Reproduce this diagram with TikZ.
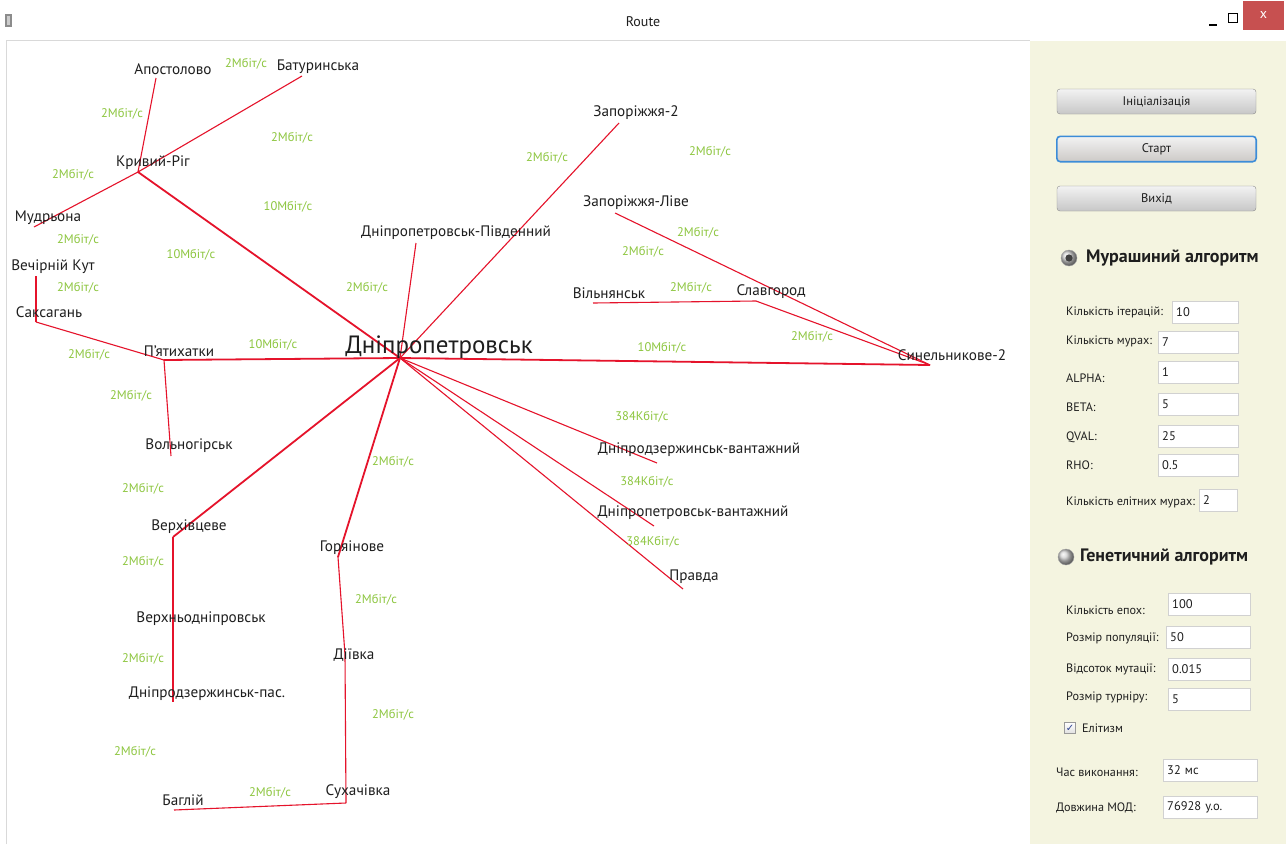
\documentclass[tikz,border=0pt]{standalone}
\usepackage{fontspec}
\setmainfont{PT Sans}
\newfontfamily\symf{DejaVu Sans}
\definecolor{linkred}{HTML}{E5132B}
\definecolor{bwc}{HTML}{8DC63F}
\definecolor{panelbg}{HTML}{F4F4E0}
\definecolor{closered}{HTML}{C75050}
\definecolor{txt}{HTML}{1E1E1E}
\definecolor{focusblue}{HTML}{3C8CD8}
\definecolor{checkblue}{HTML}{2A3F8F}
\tikzset{
  city/.style={font=\fontsize{15.2}{17}\selectfont, text=txt, inner sep=0pt},
  hubtext/.style={font=\fontsize{25}{28}\selectfont, text=txt, inner sep=0pt},
  bw/.style={font=\fontsize{12.5}{14}\selectfont, text=bwc, inner sep=0pt},
  link/.style={draw=linkred, line width=1.1pt},
  trunk/.style={draw=linkred, line width=1.8pt},
  btn/.style={draw=black!45, rounded corners=3pt, top color=white!95!black, bottom color=black!22,
    minimum width=199pt, minimum height=25pt, inner sep=0pt, font=\fontsize{12.5}{14}\selectfont, text=txt},
  field/.style={draw=black!18, fill=white, anchor=west, minimum height=22pt, inner sep=4pt,
    text width=#1, align=left, font=\fontsize{12.5}{14}\selectfont, text=txt},
  plabel/.style={anchor=west, inner sep=0pt, font=\fontsize{12.2}{14}\selectfont, text=txt},
  radiohead/.style={anchor=west, inner sep=0pt, font=\fontsize{18}{20}\selectfont\bfseries, text=txt}
}
\begin{document}
\begin{tikzpicture}[x=1pt,y=-1pt]
\useasboundingbox (0,0) rectangle (1286,844);
% window
\fill[white] (0,0) rectangle (1286,844);
\fill[panelbg] (1030,41) rectangle (1286,844);
\draw[black!15] (6.5,844) -- (6.5,40.5) -- (1030,40.5);
% title bar
\node[font=\fontsize{14}{16}\selectfont, text=txt] (title) at (643,22) {Route};
\fill[black!45] (5,14) rectangle (12,27);
\fill[black!20] (7,16) rectangle (10,25);
\draw[black, line width=1.5pt] (1209,25) -- (1217,25);
\draw[black, line width=1pt] (1228,13) rectangle (1237,22);
\fill[closered] (1243,1) rectangle (1284,30);
\node[text=white, font=\fontsize{14}{16}\selectfont] (closex) at (1263.5,15) {x};

% city points
\coordinate (hub) at (400,358);
\coordinate (kr) at (138,172);
\coordinate (apost) at (156,78);
\coordinate (batur) at (302,76);
\coordinate (mudr) at (34,227);
\coordinate (vk) at (36,276);
\coordinate (saks) at (36,322);
\coordinate (pyat) at (164,360);
\coordinate (voln) at (171,456);
\coordinate (verkh) at (173,537);
\coordinate (dzp) at (173,702);
\coordinate (gor) at (338,557);
\coordinate (diiv) at (345,655);
\coordinate (sukh) at (346,803);
\coordinate (bag) at (174,810);
\coordinate (pivd) at (416,243);
\coordinate (zap2) at (619,123);
\coordinate (zapl) at (615,213);
\coordinate (viln) at (593,303);
\coordinate (slav) at (756,301);
\coordinate (syn) at (930,365);
\coordinate (dzv) at (657,463);
\coordinate (dpv) at (654,526);
\coordinate (pravda) at (683,589);

% links
\draw[trunk] (hub) -- (kr);
\draw[link] (kr) -- (apost);
\draw[link] (kr) -- (batur);
\draw[link] (kr) -- (mudr);
\draw[link] (vk) -- (saks);
\draw[link] (saks) -- (pyat);
\draw[trunk] (pyat) -- (hub);
\draw[link] (pyat) -- (voln);
\draw[trunk] (hub) -- (verkh);
\draw[link] (verkh) -- (dzp);
\draw[trunk] (hub) -- (gor);
\draw[link] (gor) -- (diiv);
\draw[link] (diiv) -- (sukh);
\draw[link] (sukh) -- (bag);
\draw[link] (hub) -- (pivd);
\draw[link] (hub) -- (zap2);
\draw[link] (zapl) -- (syn);
\draw[link] (viln) -- (slav);
\draw[link] (slav) -- (syn);
\draw[trunk] (hub) -- (syn);
\draw[link] (hub) -- (dzv);
\draw[link] (hub) -- (dpv);
\draw[link] (hub) -- (pravda);

% city labels
\node[hubtext] (l-hub) at (439,347) {Дніпропетровськ};
\node[city] (l-kr) at (153,163) {Кривий-Ріг};
\node[city] (l-apost) at (173,69) {Апостолово};
\node[city] (l-batur) at (318,67) {Батуринська};
\node[city] (l-mudr) at (48,218) {Мудрьона};
\node[city] (l-vk) at (53,267) {Вечірній Кут};
\node[city] (l-saks) at (49,312) {Саксагань};
\node[city] (l-pyat) at (179,351) {П'ятихатки};
\node[city] (l-voln) at (189,446) {Вольногірськ};
\node[city] (l-verkh) at (189,527) {Верхівцеве};
\node[city] (l-vdn) at (201,619) {Верхньодніпровськ};
\node[city] (l-dzp) at (207,694) {Дніпродзержинськ-пас.};
\node[city] (l-gor) at (352,548) {Горяінове};
\node[city] (l-diiv) at (354,655) {Діївка};
\node[city] (l-sukh) at (358,792) {Сухачівка};
\node[city] (l-bag) at (183,800) {Баглій};
\node[city] (l-pivd) at (456,233) {Дніпропетровськ-Південний};
\node[city] (l-zap2) at (636,113) {Запоріжжя-2};
\node[city] (l-zapl) at (636,203) {Запоріжжя-Ліве};
\node[city] (l-viln) at (609,293) {Вільнянськ};
\node[city] (l-slav) at (771,292) {Славгород};
\node[city] (l-syn) at (952,355) {Синельникове-2};
\node[city] (l-dzv) at (699,450) {Дніпродзержинськ-вантажний};
\node[city] (l-dpv) at (693,513) {Дніпропетровськ-вантажний};
\node[city] (l-pravda) at (694,577) {Правда};

% bandwidth labels
\node[bw] (b1) at (246,64) {2Мбіт/с};
\node[bw] (b2) at (122,114) {2Мбіт/с};
\node[bw] (b3) at (292,138) {2Мбіт/с};
\node[bw] (b4) at (73,175) {2Мбіт/с};
\node[bw] (b5) at (288,207) {10Мбіт/с};
\node[bw] (b6) at (78,240) {2Мбіт/с};
\node[bw] (b7) at (191,255) {10Мбіт/с};
\node[bw] (b8) at (78,288) {2Мбіт/с};
\node[bw] (b9) at (367,288) {2Мбіт/с};
\node[bw] (b10) at (89,355) {2Мбіт/с};
\node[bw] (b11) at (273,345) {10Мбіт/с};
\node[bw] (b12) at (131,396) {2Мбіт/с};
\node[bw] (b13) at (143,489) {2Мбіт/с};
\node[bw] (b14) at (143,562) {2Мбіт/с};
\node[bw] (b15) at (143,659) {2Мбіт/с};
\node[bw] (b16) at (135,752) {2Мбіт/с};
\node[bw] (b17) at (270,793) {2Мбіт/с};
\node[bw] (b18) at (393,462) {2Мбіт/с};
\node[bw] (b19) at (376,600) {2Мбіт/с};
\node[bw] (b20) at (393,715) {2Мбіт/с};
\node[bw] (b21) at (547,158) {2Мбіт/с};
\node[bw] (b22) at (710,152) {2Мбіт/с};
\node[bw] (b23) at (698,233) {2Мбіт/с};
\node[bw] (b24) at (643,252) {2Мбіт/с};
\node[bw] (b25) at (691,288) {2Мбіт/с};
\node[bw] (b26) at (812,337) {2Мбіт/с};
\node[bw] (b27) at (662,348) {10Мбіт/с};
\node[bw] (b28) at (642,417) {384Кбіт/с};
\node[bw] (b29) at (647,482) {384Кбіт/с};
\node[bw] (b30) at (653,542) {384Кбіт/с};

% right panel: buttons
\node[btn] (binit) at (1156.5,101.5) {Ініціалізація};
\node[btn, draw=none, top color=white!95!black, bottom color=orange!10!black!22] (bstart) at (1156.5,149) {Старт};
\draw[draw=focusblue, line width=1.6pt, rounded corners=3.5pt] (bstart.south west) rectangle (bstart.north east);
\node[btn] (bexit) at (1156.5,198.5) {Вихід};

% ant algorithm
\shade[ball color=black!18] (1069,258) circle (8);
\draw[black!35] (1069,258) circle (8);
\fill[black!75] (1069,258) circle (3.6);
\node[radiohead] (rant) at (1086,258) {Мурашиний алгоритм};

\node[plabel] (p1) at (1066,312) {Кількість ітерацій:};
\node[field=58pt] (f1) at (1172,312) {10};
\node[plabel] (p2) at (1066,341) {Кількість мурах:};
\node[field=72pt] (f2) at (1158,342) {7};
\node[plabel] (p3) at (1066,378) {ALPHA:};
\node[field=72pt] (f3) at (1158,372) {1};
\node[plabel] (p4) at (1066,407) {BETA:};
\node[field=72pt] (f4) at (1158,404) {5};
\node[plabel] (p5) at (1066,437) {QVAL:};
\node[field=72pt] (f5) at (1158,436) {25};
\node[plabel] (p6) at (1066,465) {RHO:};
\node[field=72pt] (f6) at (1158,465) {0.5};
\node[plabel] (p7) at (1066,502) {Кількість елітних мурах:};
\node[field=30pt] (f7) at (1199,500.5) {2};

% genetic algorithm
\shade[ball color=black!18] (1066,557) circle (8);
\draw[black!35] (1066,557) circle (8);
\node[radiohead] (rgen) at (1080,557) {Генетичний алгоритм};

\node[plabel] (g1) at (1066,610) {Кількість епох:};
\node[field=74pt] (gf1) at (1168,604.5) {100};
\node[plabel] (g2) at (1066,638) {Розмір популяції:};
\node[field=76pt] (gf2) at (1166,637) {50};
\node[plabel] (g3) at (1066,669) {Відсоток мутації:};
\node[field=74pt] (gf3) at (1168,669.5) {0.015};
\node[plabel] (g4) at (1066,697) {Розмір турніру:};
\node[field=74pt] (gf4) at (1168,699.5) {5};
\node[draw=black!40, top color=white, bottom color=black!12, minimum size=11pt, inner sep=0pt] (chk) at (1070,728) {};
\node[font=\symf\fontsize{10}{10}\selectfont, text=checkblue, inner sep=0pt] (chkmark) at (chk.center) {✓};
\node[plabel] (elit) at (1082,728) {Елітизм};

\node[plabel] (t1) at (1056,772) {Час виконання:};
\node[field=86pt] (tf1) at (1163,770) {32 мс};
\node[plabel] (t2) at (1056,808) {Довжина МОД:};
\node[field=86pt] (tf2) at (1163,807) {76928 у.о.};
\end{tikzpicture}
\end{document}
